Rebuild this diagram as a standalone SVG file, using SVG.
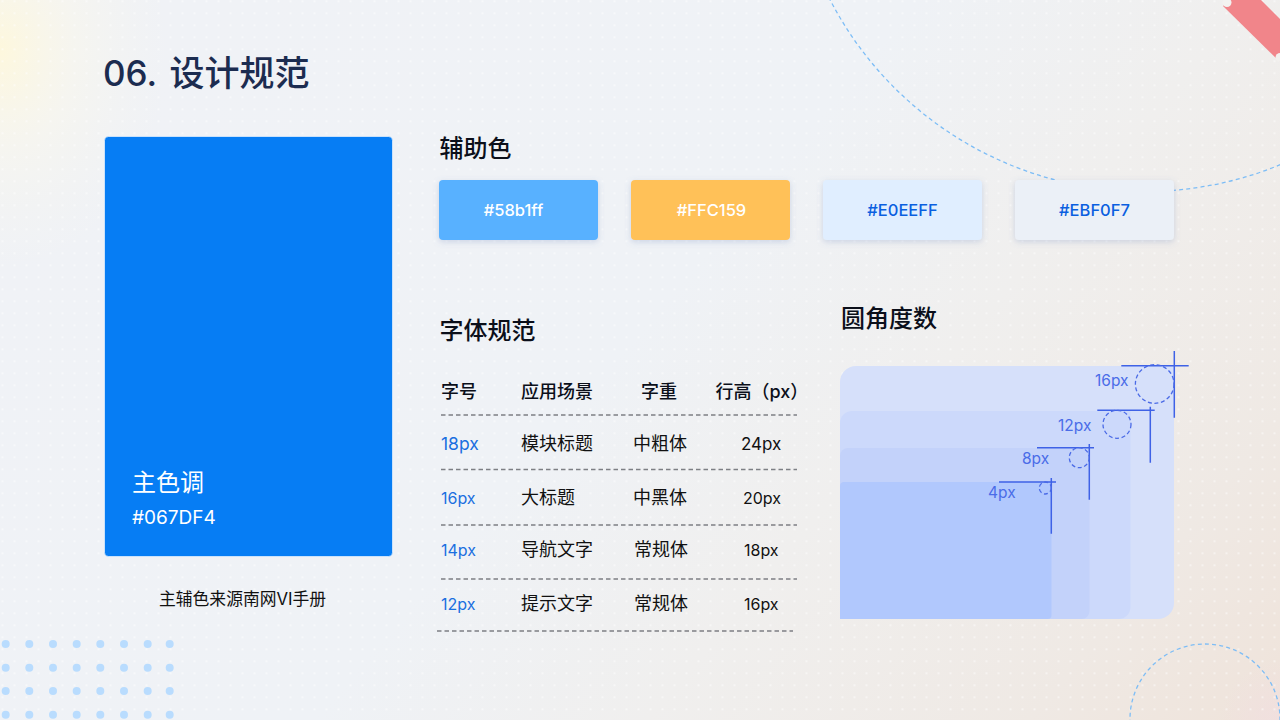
<svg xmlns="http://www.w3.org/2000/svg" width="1280" height="720" viewBox="0 0 1280 720">
<style>
text{font-family:"Inter","Noto Sans CJK SC","Liberation Sans",sans-serif}
.h{font-size:24px;font-weight:500;fill:#0b0f1a}
.th{font-size:18px;font-weight:500;fill:#0b0f1a}
.td{font-size:18px;fill:#111}
.s{font-size:16px;fill:#111}
.b18{font-size:17.5px;fill:#1a6fe0}
.b16{font-size:16px;fill:#1a6fe0}
.sw{font-size:16.5px;text-anchor:middle;font-weight:500}
.rule{stroke:#7d7f84;stroke-width:1.3;stroke-dasharray:4.5 3;fill:none}
.mark{stroke:#3f62e6;stroke-width:1.5;fill:none}
.dash{stroke:#4a6ae6;stroke-width:1.3;stroke-dasharray:4 2.6;fill:none}
.lab{font-size:15.5px;fill:#4a6ce8}
.arc{fill:none;stroke:#7dbdf6;stroke-width:1.3;stroke-dasharray:4 3.2}
.dot{fill:#b9dcfe}
</style>
<defs>
<linearGradient id="bg" gradientUnits="userSpaceOnUse" x1="300" y1="-100" x2="1280" y2="720">
<stop offset="0" stop-color="#f0f2f6"/>
<stop offset=".42" stop-color="#eff2f6"/>
<stop offset=".62" stop-color="#f0efee"/>
<stop offset=".85" stop-color="#efe9e4"/>
<stop offset="1" stop-color="#efe3da"/>
</linearGradient>
<radialGradient id="ye" gradientUnits="userSpaceOnUse" gradientTransform="translate(0 50) scale(1 1.3) translate(0 -50)" cx="0" cy="50" r="170">
<stop offset="0" stop-color="#fff8da" stop-opacity=".9"/>
<stop offset=".45" stop-color="#fbf8ea" stop-opacity=".5"/>
<stop offset="1" stop-color="#f5f5ee" stop-opacity="0"/>
</radialGradient>
<radialGradient id="pk" gradientUnits="userSpaceOnUse" cx="1280" cy="720" r="60">
<stop offset="0" stop-color="#f2dde2" stop-opacity=".6"/>
<stop offset="1" stop-color="#f2dde2" stop-opacity="0"/>
</radialGradient>
<pattern id="grid" patternUnits="userSpaceOnUse" x="-3.5" y="-4.7" width="12" height="12">
<circle cx="6" cy="6" r=".8" fill="#fff"/>
</pattern>
<filter id="sh" x="-15%" y="-25%" width="130%" height="160%">
<feDropShadow dx="0" dy="2" stdDeviation="3" flood-color="#5a78b4" flood-opacity=".25"/>
</filter>
</defs>
<g id="background">
<rect width="1280" height="720" fill="url(#bg)"/>
<rect width="1280" height="720" fill="url(#ye)"/>
<rect width="1280" height="720" fill="url(#pk)"/>
<rect width="1280" height="720" fill="url(#grid)"/>
<path d="M1223 6L1229 0H1261L1280 19V62Z" fill="#f08085" fill-opacity=".96"/>
<circle cx="1227" cy="2.500" r="4.500" fill="#f3f2f0"/>
<circle cx="1280" cy="57.500" r="4.500" fill="#f2f0ee"/>
<circle class="arc" cx="1145" cy="-163" r="354.5"/>
<circle class="arc" cx="1205" cy="719" r="75"/>
<g class="dot">
<circle cx="5.700" cy="644" r="4"/><circle cx="29.300" cy="644" r="4"/><circle cx="53" cy="644" r="4"/><circle cx="76.700" cy="644" r="4"/><circle cx="100.300" cy="644" r="4"/><circle cx="124" cy="644" r="4"/><circle cx="147.700" cy="644" r="4"/><circle cx="169.700" cy="644" r="4"/>
<circle cx="5.700" cy="667.700" r="4"/><circle cx="29.300" cy="667.700" r="4"/><circle cx="53" cy="667.700" r="4"/><circle cx="76.700" cy="667.700" r="4"/><circle cx="100.300" cy="667.700" r="4"/><circle cx="124" cy="667.700" r="4"/><circle cx="147.700" cy="667.700" r="4"/><circle cx="169.700" cy="667.700" r="4"/>
<circle cx="5.700" cy="691" r="4"/><circle cx="29.300" cy="691" r="4"/><circle cx="53" cy="691" r="4"/><circle cx="76.700" cy="691" r="4"/><circle cx="100.300" cy="691" r="4"/><circle cx="124" cy="691" r="4"/><circle cx="147.700" cy="691" r="4"/><circle cx="169.700" cy="691" r="4"/>
<circle cx="5.700" cy="714.700" r="4"/><circle cx="29.300" cy="714.700" r="4"/><circle cx="53" cy="714.700" r="4"/><circle cx="76.700" cy="714.700" r="4"/><circle cx="100.300" cy="714.700" r="4"/><circle cx="124" cy="714.700" r="4"/><circle cx="147.700" cy="714.700" r="4"/><circle cx="169.700" cy="714.700" r="4"/>
</g>
</g>
<text id="title" y="86" font-size="35" font-weight="500" fill="#1c2c50"><tspan x="103">06.</tspan><tspan x="169.500">设计规范</tspan></text>
<g id="primary">
<rect x="104.500" y="136.500" width="288" height="420" rx="4" fill="#067df4" stroke="#fff" stroke-opacity=".6"/>
<text x="132" y="491" font-size="24" fill="#fff">主色调</text>
<text x="132" y="524" font-size="19" fill="#fff">#067DF4</text>
<text x="159" y="604.500" font-size="16.800" fill="#111">主辅色来源南网VI手册</text>
</g>
<g id="secondary">
<text x="439.500" y="157" class="h">辅助色</text>
<g filter="url(#sh)"><rect x="439" y="180" width="159" height="60" rx="4" fill="#58b1ff"/></g>
<text x="513.500" y="216" class="sw" fill="#fff">#58b1ff</text>
<g filter="url(#sh)"><rect x="631" y="180" width="159" height="60" rx="4" fill="#ffc159"/></g>
<text x="711.500" y="216" class="sw" fill="#fff">#FFC159</text>
<g filter="url(#sh)"><rect x="823" y="180" width="159" height="60" rx="4" fill="#e0eeff"/></g>
<text x="902.500" y="216" class="sw" fill="#0a5fe0">#E0EEFF</text>
<g filter="url(#sh)"><rect x="1015" y="180" width="159" height="60" rx="4" fill="#ebf0f7"/></g>
<text x="1094.500" y="216" class="sw" fill="#0a5fe0">#EBF0F7</text>
</g>
<g id="type-spec">
<text x="439.500" y="339" class="h">字体规范</text>
<text x="441" y="398" class="th">字号</text><text x="521" y="398" class="th">应用场景</text><text x="641" y="398" class="th">字重</text><text x="715.500" y="398" class="th">行高（px）</text>
<path class="rule" d="M441 415H797M441 469.500H797M441 525H797M441 579H797M437 631H793"/>
<text x="441" y="449.500" class="b18">18px</text><text x="521" y="449.500" class="td">模块标题</text><text x="633" y="449.500" class="td">中粗体</text><text x="741" y="449.500" class="td" style="font-size:17px">24px</text>
<text x="441" y="504" class="b16">16px</text><text x="521" y="504" class="td">大标题</text><text x="633" y="504" class="td">中黑体</text><text x="743" y="504" class="s">20px</text>
<text x="441" y="555.500" class="b16">14px</text><text x="521" y="555.500" class="td">导航文字</text><text x="634" y="555.500" class="td">常规体</text><text x="744" y="555.500" class="s">18px</text>
<text x="441" y="609.500" class="b16">12px</text><text x="521" y="609.500" class="td">提示文字</text><text x="634" y="609.500" class="td">常规体</text><text x="744" y="609.500" class="s">16px</text>
</g>
<g id="radius">
<text x="841" y="327" class="h">圆角度数</text>
<path d="M840 619V382A16 16 0 0 1 856 366H1174V603A16 16 0 0 1 1158 619Z" fill="#d6e0fa"/>
<path d="M840 619V423A12 12 0 0 1 852 411H1130.500V607A12 12 0 0 1 1118.500 619Z" fill="#ccd9fb"/>
<path d="M840 619V456A8 8 0 0 1 848 448H1089.500V611A8 8 0 0 1 1081.500 619Z" fill="#c3d2fa"/>
<path d="M840 619V486A4 4 0 0 1 844 482H1051.500V615A4 4 0 0 1 1047.500 619Z" fill="#b1c8fd"/>
<path class="mark" d="M1121.300 365.700H1188.700M1174.300 351V417.700M1097.300 410.300H1154.700M1150.300 406.700V462.700M1037 447.700H1094M1089.300 444V499.700M999 482H1056M1051.300 478V533.700"/>
<circle class="dash" cx="1154.700" cy="384" r="19.300"/>
<circle class="dash" cx="1117" cy="424.300" r="14"/>
<circle class="dash" cx="1079.300" cy="457.700" r="10" stroke-dasharray="3 2"/>
<circle class="dash" cx="1045.300" cy="488" r="6" stroke-dasharray="2 1.500"/>
<text class="lab" x="1095" y="386">16px</text>
<text class="lab" x="1058" y="431">12px</text>
<text class="lab" x="1022" y="464">8px</text>
<text class="lab" x="988" y="498">4px</text>
</g>
</svg>
